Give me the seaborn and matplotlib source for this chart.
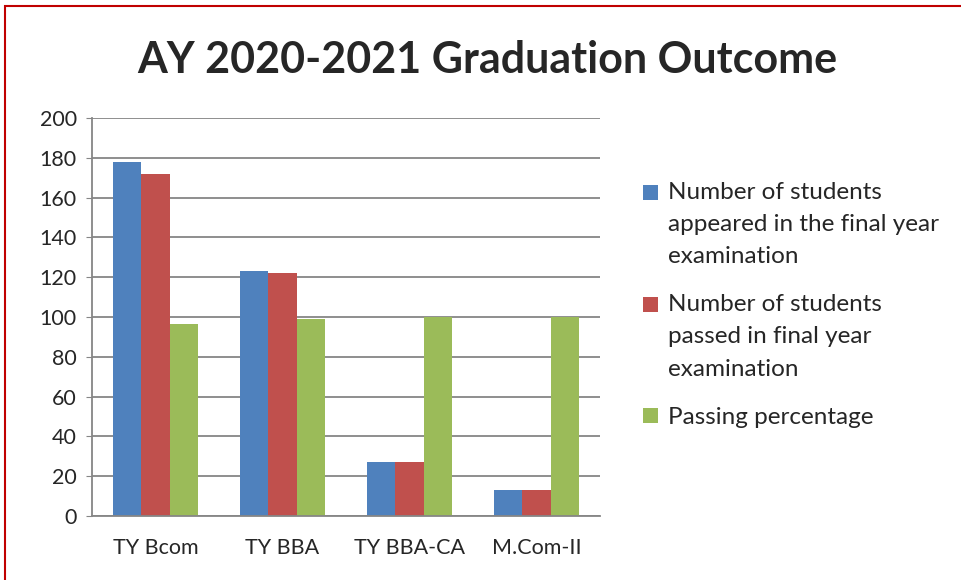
import matplotlib
matplotlib.use("Agg")
import matplotlib.pyplot as plt
import seaborn as sns
import pandas as pd
from matplotlib.patches import Rectangle
from matplotlib.legend_handler import HandlerPatch

categories = ["TY Bcom", "TY BBA", "TY BBA-CA", "M.Com-II"]
appeared = [178, 123, 27, 13]
passed = [172, 122, 27, 13]
pass_pct = [96.6, 99.2, 100, 100]
series_names = [
    "Number of students\nappeared in the final year\nexamination",
    "Number of students\npassed in final year\nexamination",
    "Passing percentage",
]
colors = ["#4F81BD", "#C0504D", "#9BBB59"]

rows = []
for name, vals in zip(series_names, [appeared, passed, pass_pct]):
    for c, v in zip(categories, vals):
        rows.append({"cat": c, "series": name, "value": v})
df = pd.DataFrame(rows)

sns.set_style("white")
plt.rcParams["font.family"] = ["Lato", "DejaVu Sans"]

fig = plt.figure(figsize=(9.61, 5.8), dpi=100)
W, H = 961, 580
ax = fig.add_axes([92 / W, 1 - 516 / H, (600 - 92) / W, (516 - 118) / H])

sns.barplot(data=df, x="cat", y="value", hue="series", palette=colors,
            width=0.67, ax=ax, saturation=1, legend=True, linewidth=0)

ax.set_ylim(0, 200)
ax.set_yticks(range(0, 201, 20))
ax.set_xlabel("")
ax.set_ylabel("")
ax.yaxis.grid(True, color="#868686", linewidth=1.3)
ax.set_axisbelow(True)
for s in ["top", "right"]:
    ax.spines[s].set_visible(False)
for s in ["left", "bottom"]:
    ax.spines[s].set_color("#868686")
    ax.spines[s].set_linewidth(1.3)
ax.tick_params(axis="y", left=True, length=4, color="#868686", labelsize=15.5, pad=7)
ax.tick_params(axis="x", bottom=False, labelsize=15.5, pad=12)

LEG_FS = 17.5
LINE_PITCH_PT = 32 * 72 / 100  # 32 px between lines


class TopHandler(HandlerPatch):
    def create_artists(self, legend, orig_handle, xdescent, ydescent, width,
                       height, fontsize, trans):
        label = orig_handle.get_label()
        n = label.count("\n") + 1
        shift = (n - 1) / 2 * LINE_PITCH_PT
        size = width
        p = Rectangle((-xdescent, -ydescent + (height - size) / 2 + shift),
                      size, size, facecolor=orig_handle.get_facecolor(),
                      edgecolor="none", transform=trans)
        return [p]


handles, labels = ax.get_legend_handles_labels()
for h, l in zip(handles, labels):
    h.set_label(l)
leg = ax.legend(handles, labels, loc="upper left",
                bbox_to_anchor=(621 / W, 1 - 160 / H),
                bbox_transform=fig.transFigure, frameon=False, fontsize=LEG_FS,
                handlelength=0.62, handleheight=0.62, handletextpad=0.4,
                labelspacing=1.13, handler_map={Rectangle: TopHandler()})
for t in leg.get_texts():
    t.set_linespacing(1.65)

fig.text(487 / W, 1 - 60 / H, "AY 2020-2021 Graduation Outcome", ha="center",
         va="center", fontsize=31, fontweight="bold")

fig.patches.append(Rectangle((5 / W, -0.1), 1.2, (1 - 6 / H) + 0.1, transform=fig.transFigure,
                             fill=False, edgecolor="#C00000", linewidth=1.5))

fig.savefig("out.png", dpi=100, facecolor="white")
